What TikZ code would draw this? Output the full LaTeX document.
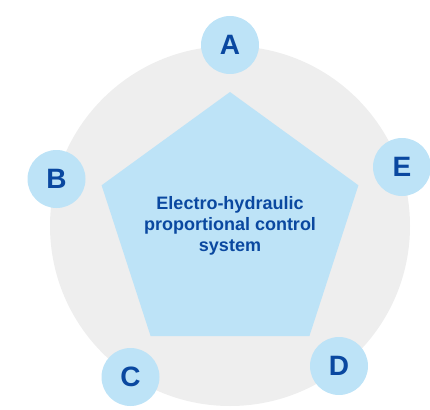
\documentclass[tikz,border=0pt]{standalone}
\usepackage{fontspec}
\setmainfont{Liberation Sans}
\usetikzlibrary{shapes.geometric}
\definecolor{ringgray}{RGB}{238,238,238}
\definecolor{paleblue}{RGB}{189,227,247}
\definecolor{inkblue}{RGB}{10,72,160}
\begin{document}
\begin{tikzpicture}[x=1pt, y=-1pt,
        bubble/.style={shape=circle, fill=paleblue, inner sep=0pt, minimum size=58pt,
            text=inkblue, font=\fontsize{28}{28}\selectfont\bfseries}]
        \useasboundingbox (0,0) rectangle (430,409);
        \node[shape=circle, fill=ringgray, inner sep=0pt, minimum size=360pt] (ring) at (230,226) {};
        \node[regular polygon, regular polygon sides=5, fill=paleblue, inner sep=0pt,
            minimum size=270pt] (core) at (230,227) {};
        \node[text=inkblue, align=center, font=\fontsize{18}{20.7}\selectfont\bfseries]
            (caption) at (230,226) {Electro-hydraulic\\proportional control\\system};

        \node[bubble] (A) at (230,45) {A};
        \node[bubble] (B) at (56.5,179) {B};
        \node[bubble] (C) at (130.5,377) {C};
        \node[bubble] (D) at (339,366) {D};
        \node[bubble] (E) at (402,167) {E};
    \end{tikzpicture}
\end{document}
